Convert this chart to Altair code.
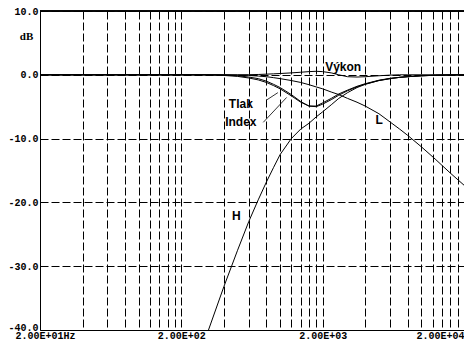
import altair as alt
import pandas as pd

# ---- data ----
freq = [20, 100, 200, 300, 400, 500, 600, 700, 800, 900, 1000, 1200, 1400, 1600, 1800,
        2000, 2300, 2600, 3000, 3500, 4000, 5000, 6000, 7000, 8000, 10000, 12500, 16000, 20000]

h_freq = [300, 400, 500, 600, 700, 800, 900, 1000, 1200, 1400, 1600, 1800,
          2000, 2300, 2600, 3000, 3500, 4000, 5000, 6000, 7000, 8000, 10000, 12500, 16000, 20000]
h_db = [-41.0, -33.2, -27.5, -23.0, -19.6, -16.8, -14.5, -12.5, -10.0, -8.5, -7.6, -6.6,
        -5.8, -4.7, -3.7, -2.8, -2.0, -1.5, -0.9, -0.6, -0.4, -0.3, -0.15, -0.08, -0.03, 0.0]

l_db = [0.0, 0.0, 0.0, 0.0, 0.0, -0.05, -0.1, -0.2, -0.3, -0.45, -0.6, -0.9, -1.2, -1.55, -1.9,
        -2.2, -2.7, -3.1, -3.7, -4.3, -4.9, -6.1, -7.4, -8.5, -9.5, -11.3, -13.2, -15.4, -17.3]

tlak_db = [0.0, 0.0, 0.0, 0.0, -0.05, -0.15, -0.35, -0.6, -1.0, -1.5, -2.0, -3.1, -4.2, -4.9, -5.0,
           -4.6, -3.9, -3.2, -2.5, -1.9, -1.45, -0.9, -0.6, -0.4, -0.3, -0.15, -0.08, -0.03, 0.0]

index_db = [0.0, 0.0, 0.0, 0.0, -0.1, -0.25, -0.5, -0.8, -1.2, -1.7, -2.2, -3.3, -4.3, -4.9, -4.9,
            -4.4, -3.7, -3.0, -2.4, -1.8, -1.4, -0.85, -0.55, -0.4, -0.28, -0.15, -0.08, -0.03, 0.0]

vykon_db = [0.0, 0.0, 0.0, 0.0, 0.0, 0.0, 0.02, 0.05, 0.1, 0.15, 0.2, 0.3, 0.4, 0.5, 0.55,
            0.5, 0.3, 0.0, -0.3, -0.35, -0.3, -0.15, -0.05, 0.0, 0.0, 0.0, 0.0, 0.0, 0.0]

label_names = ["Tlak", "Index", "Výkon", "L", "H"]
label_freq = [527, 527, 2792, 5024, 490]
label_db = [-4.5, -7.35, 1.28, -7.1, -22.1]

leader_f1 = [796, 760]
leader_f2 = [964, 1112]
leader_d1 = [-4.0, -7.45]
leader_d2 = [-2.8, -3.55]

grid_x = [m * 10 ** e for e in (1, 2, 3) for m in (2, 4, 6, 8, 10, 12, 14, 16, 18)] + [20000]
grid_y = [10, 5, 0, -5, -10, -15, -20, -25, -30, -35, -40]

x_tick_values = [20, 200, 2000, 20000]
x_tick_labels = ["2.00E+01Hz", "2.00E+02", "2.00E+03", "2.00E+04"]
y_tick_values = [10, 0, -10, -20, -30, -40]
y_tick_labels = ["10.0", "0.0", "-10.0", "-20.0", "-30.0", "-40.0"]

# ---- tables ----
rows = []
for name, vals in (("L", l_db), ("Tlak", tlak_db), ("Index", index_db), ("Výkon", vykon_db)):
    for f, v in zip(freq, vals):
        rows.append({"f": f, "db": v, "s": name})
for f, v in zip(h_freq, h_db):
    rows.append({"f": f, "db": v, "s": "H"})
curves = pd.DataFrame(rows)
labels = pd.DataFrame({"name": label_names, "f": label_freq, "db": label_db})
leaders = pd.DataFrame({"f1": leader_f1, "f2": leader_f2, "d1": leader_d1, "d2": leader_d2})


def label_expr(values, texts):
    e = "''"
    for v, t in reversed(list(zip(values, texts))):
        e = f"datum.value == {v} ? '{t}' : ({e})"
    return e


xscale = alt.Scale(type="log", domain=[20, 20000], nice=False)
yscale = alt.Scale(domain=[-40, 10], nice=False)

xaxis = alt.Axis(
    values=grid_x, grid=True, gridDash=[8, 3], gridColor="black", gridOpacity=1, gridWidth=1,
    ticks=False, domain=True, domainColor="black", domainWidth=1,
    labelExpr=label_expr(x_tick_values, x_tick_labels), labelFlush=False, labelOverlap=False,
    labelFont="Liberation Mono", labelFontWeight="bold", labelFontSize=10, labelColor="black",
    labelPadding=0,
    labelAlign={"condition": {"test": "datum.value == 20000", "value": "right"}, "value": "center"},
    labelOffset={"condition": {"test": "datum.value == 20", "value": 5}, "value": 0},
    title=None,
)
yaxis = alt.Axis(
    values=grid_y, grid=True, gridDash=[8, 3], gridColor="black", gridOpacity=1, gridWidth=1,
    ticks=False, domain=True, domainColor="black", domainWidth=1,
    labelExpr=label_expr(y_tick_values, y_tick_labels), labelOverlap=False, labelFlush=False,
    labelFont="Liberation Mono", labelFontWeight="bold", labelFontSize=10, labelColor="black",
    labelPadding=2,
    labelOffset={"condition": {"test": "datum.value == -40", "value": -3}, "value": 0},
    title="dB", titleAngle=0, titleX=-14, titleY=25, titleAlign="center", titleBaseline="middle",
    titleFont="Liberation Serif", titleFontWeight="bold", titleFontSize=11, titleColor="black",
)

lines = alt.Chart(curves).mark_line(clip=True, color="black", strokeWidth=1).encode(
    x=alt.X("f:Q", scale=xscale, axis=xaxis),
    y=alt.Y("db:Q", scale=yscale, axis=yaxis),
    detail="s:N",
)

top = alt.Chart(labels).mark_rule(color="black", strokeWidth=1).encode(y=alt.datum(10, scale=yscale))

text = alt.Chart(labels).mark_text(
    font="Liberation Sans", fontWeight="bold", fontSize=12, color="black",
    align="center", baseline="middle",
).encode(x=alt.X("f:Q", scale=xscale), y=alt.Y("db:Q", scale=yscale), text="name:N")

lead = alt.Chart(leaders).mark_rule(color="black", strokeWidth=0.8).encode(
    x=alt.X("f1:Q", scale=xscale), x2="f2:Q",
    y=alt.Y("d1:Q", scale=yscale), y2="d2:Q",
)

chart = alt.layer(lines, top, lead, text).properties(
    width=424, height=319,
    autosize=alt.AutoSizeParams(type="none"),
    padding={"left": 32, "top": 3, "right": 0, "bottom": 10},
    background="white",
).configure_view(stroke=None)

chart.save("out.html", embed_options={"renderer": "svg", "actions": False})
